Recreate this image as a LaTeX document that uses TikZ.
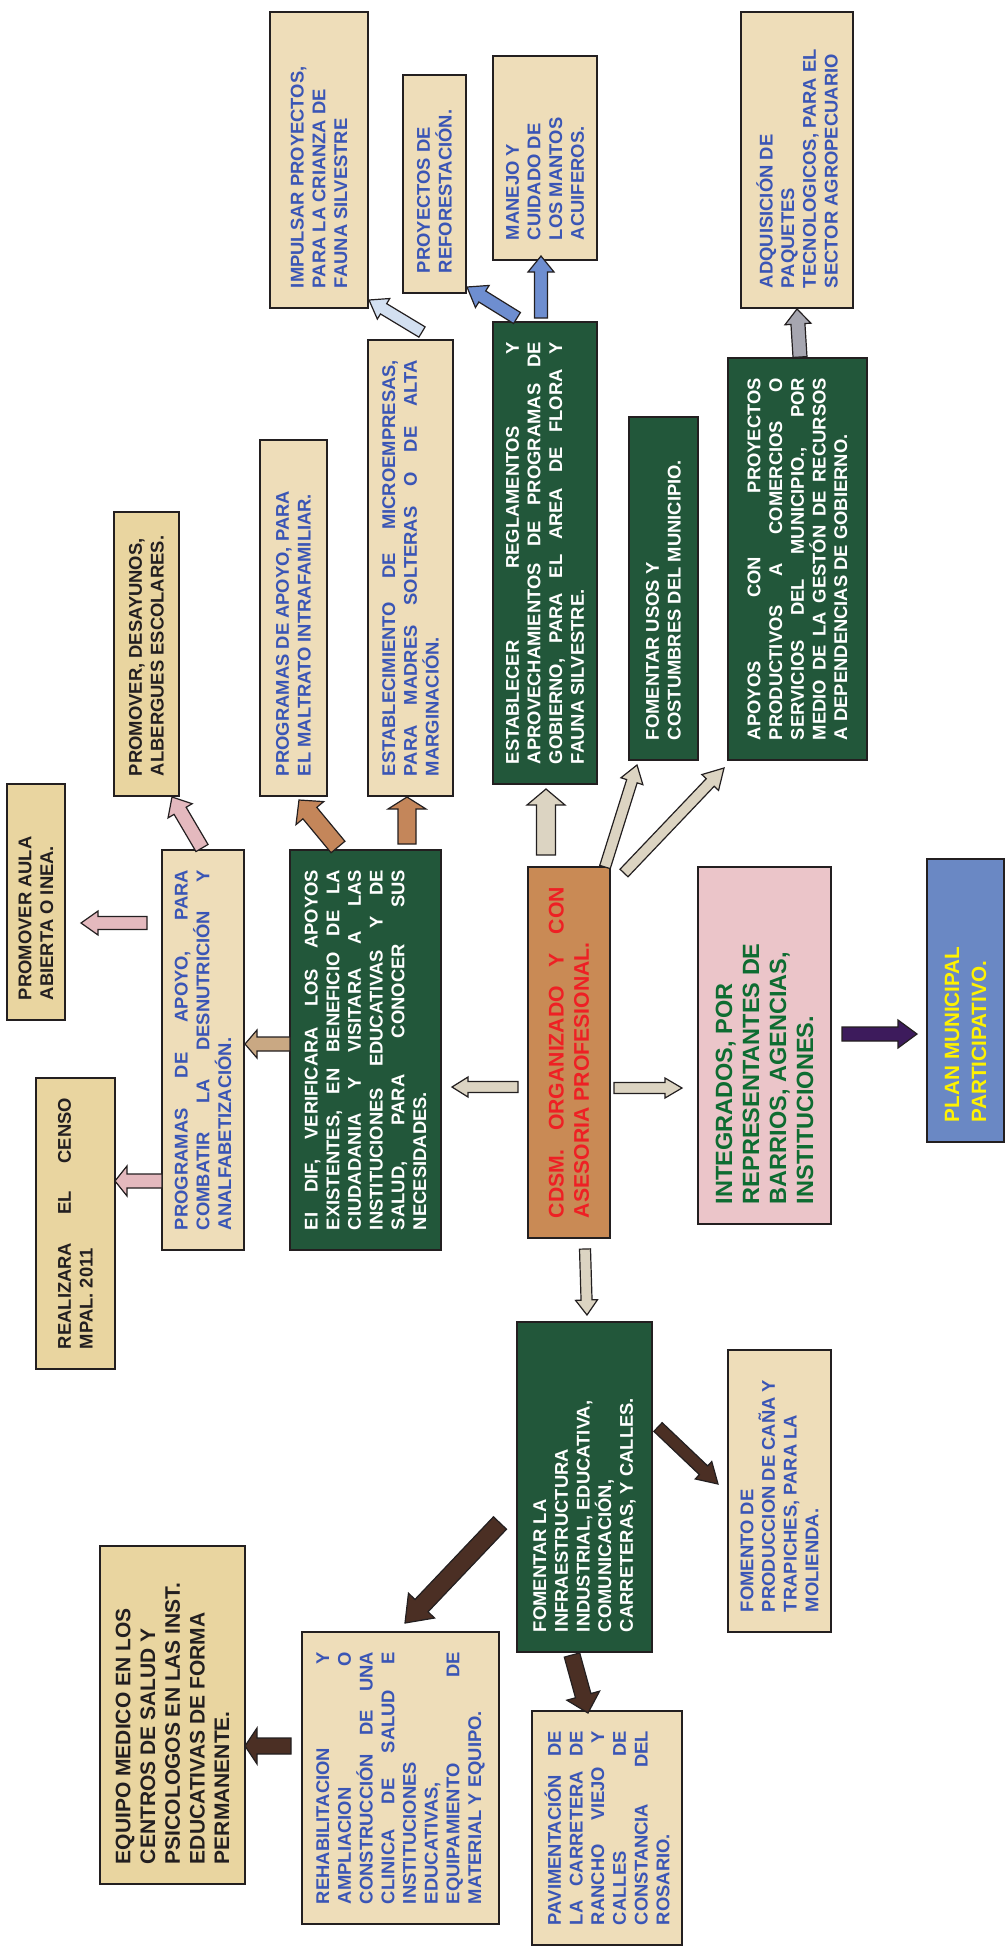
\documentclass[tikz,border=0pt]{standalone}
\usepackage{fontspec}
\setmainfont{Liberation Sans}
\usepackage{graphicx}
\usetikzlibrary{calc}

\definecolor{parch}{HTML}{EEDDB9}
\definecolor{parchy}{HTML}{E9D5A0}
\definecolor{marble}{HTML}{22573A}
\definecolor{wood}{HTML}{C98A55}
\definecolor{pinkbg}{HTML}{EBC5C9}
\definecolor{denim}{HTML}{6A88C4}
\definecolor{tblue}{HTML}{3A55B5}
\definecolor{tred}{HTML}{EE2024}
\definecolor{tgreen}{HTML}{0E6C31}
\definecolor{tyellow}{HTML}{FFF200}
\definecolor{tblack}{HTML}{231F20}
\definecolor{edge}{HTML}{231F20}
\definecolor{abeige}{HTML}{DCD4C2}
\definecolor{atan}{HTML}{C9A883}
\definecolor{acopper}{HTML}{C4865A}
\definecolor{apink}{HTML}{E4B9BE}
\definecolor{alblue}{HTML}{D3E0F1}
\definecolor{ablue}{HTML}{6E8ED0}
\definecolor{agray}{HTML}{A6A6B0}
\definecolor{apurple}{HTML}{3D1B5C}
\definecolor{abrown}{HTML}{4B2F24}

\newcommand\rtext[2]{\rotatebox{90}{\begin{minipage}{#1pt}\tolerance=10000 \hbadness=10000 #2\end{minipage}}}
\newcommand\rrtext[2]{\rtext{#1}{\raggedright #2}}

\newcommand\barrow[6]{%
  \coordinate (ba) at #2;
  \coordinate (bb) at #3;
  \coordinate (bh) at ($(bb)!#6pt!(ba)$);
  \draw[arrowline, fill=#1] ($(ba)!#4pt!90:(bb)$) -- ($(bh)!#4pt!90:(bb)$) -- ($(bh)!#5pt!90:(bb)$) -- (bb) -- ($(bh)!#5pt!-90:(bb)$) -- ($(bh)!#4pt!-90:(bb)$) -- ($(ba)!#4pt!-90:(bb)$) -- cycle;
}

\tikzset{
  box/.style={draw=edge, line width=1.5pt, inner sep=0pt, outer sep=0pt,
    font=\bfseries\fontsize{18.4}{21.7}\selectfont},
  arrowline/.style={draw=edge, line width=1.2pt, line join=miter},
}

\begin{document}
\begin{tikzpicture}[x=1pt, y=-1pt]
\useasboundingbox (0,0) rectangle (1005,1955);

% top row
\node[box, fill=parch, text=tblue, minimum width=98pt, minimum height=296pt] (impulsar) at (319,160)
  {\rrtext{256}{IMPULSAR PROYECTOS,\\ PARA LA CRIANZA DE\\ FAUNA SILVESTRE}};
\node[box, fill=parch, text=tblue, minimum width=63pt, minimum height=218pt] (refor) at (434.5,184)
  {\rrtext{178}{PROYECTOS DE\\ REFORESTACIÓN.}};
\node[box, fill=parch, text=tblue, minimum width=104pt, minimum height=204pt] (manejo) at (545,158)
  {\rrtext{164}{MANEJO Y\\ CUIDADO DE\\ LOS MANTOS\\ ACUIFEROS.}};
\node[box, fill=parch, text=tblue, minimum width=112pt, minimum height=296pt] (adq) at (797,160)
  {\rrtext{256}{ADQUISICIÓN DE\\ PAQUETES\\ TECNOLOGICOS, PARA EL\\ SECTOR AGROPECUARIO}};

% second row
\node[box, fill=parchy, text=tblack, minimum width=65pt, minimum height=284pt] (desay) at (146.5,654)
  {\rrtext{244}{PROMOVER, DESAYUNOS,\\ ALBERGUES ESCOLARES.}};
\node[box, fill=parch, text=tblue, minimum width=67pt, minimum height=356pt] (maltrato) at (293.5,618)
  {\rrtext{316}{PROGRAMAS DE APOYO, PARA\\ EL MALTRATO INTRAFAMILIAR.}};
\node[box, fill=parch, text=tblue, minimum width=85pt, minimum height=456pt] (establec) at (410.5,568)
  {\rtext{416}{ESTABLECIMIENTO DE MICROEMPRESAS,\linebreak PARA MADRES SOLTERAS O DE ALTA\linebreak MARGINACIÓN.}};
\node[box, fill=marble, text=white, minimum width=104pt, minimum height=462pt] (establecer) at (545,553)
  {\rtext{422}{ESTABLECER REGLAMENTOS Y\linebreak APROVECHAMIENTOS DE PROGRAMAS DE\linebreak GOBIERNO, PARA EL AREA DE FLORA Y\linebreak FAUNA SILVESTRE.}};
\node[box, fill=marble, text=white, minimum width=69pt, minimum height=343pt] (usos) at (663.5,588.5)
  {\rrtext{303}{FOMENTAR USOS Y\\ COSTUMBRES DEL MUNICIPIO.}};
\node[box, fill=marble, text=white, minimum width=139pt, minimum height=402pt] (apoyos) at (797.5,559)
  {\rtext{362}{APOYOS CON PROYECTOS\linebreak PRODUCTIVOS A COMERCIOS O\linebreak SERVICIOS DEL MUNICIPIO., POR\linebreak MEDIO DE LA GESTÓN DE RECURSOS\linebreak A DEPENDENCIAS DE GOBIERNO.}};

% middle row
\node[box, fill=parchy, text=tblack, minimum width=58pt, minimum height=236pt] (aula) at (36,902)
  {\rrtext{196}{PROMOVER AULA\\ ABIERTA O INEA.}};
\node[box, fill=parch, text=tblue, minimum width=82pt, minimum height=400pt] (combatir) at (203,1050)
  {\rtext{360}{PROGRAMAS DE APOYO, PARA\linebreak COMBATIR LA DESNUTRICIÓN Y\linebreak ANALFABETIZACIÓN.}};
\node[box, fill=marble, text=white, minimum width=151pt, minimum height=400pt] (dif) at (365.5,1050)
  {\rtext{360}{EI DIF, VERIFICARA LOS APOYOS\linebreak EXISTENTES, EN BENEFICIO DE LA\linebreak CIUDADANIA Y VISITARA A LAS\linebreak INSTITUCIONES EDUCATIVAS Y DE\linebreak SALUD, PARA CONOCER SUS\linebreak NECESIDADES.}};
\node[box, fill=wood, text=tred, minimum width=82pt, minimum height=371pt,
  font=\bfseries\fontsize{21.2}{25.2}\selectfont] (cdsm) at (569,1052.5)
  {\rtext{331}{CDSM. ORGANIZADO Y CON\linebreak ASESORIA PROFESIONAL.}};
\node[box, fill=pinkbg, text=tgreen, minimum width=133pt, minimum height=357pt,
  font=\bfseries\fontsize{23.5}{27}\selectfont] (integ) at (764.5,1045.5)
  {\rrtext{317}{INTEGRADOS, POR\\ REPRESENTANTES DE\\ BARRIOS, AGENCIAS,\\ INSTITUCIONES.}};
\node[box, fill=denim, text=tyellow, minimum width=77pt, minimum height=283pt,
  font=\bfseries\fontsize{20.7}{27}\selectfont] (plan) at (965.5,1000.5)
  {\rrtext{243}{PLAN MUNICIPAL\\ PARTICIPATIVO.}};
\node[box, fill=parchy, text=tblack, minimum width=79pt, minimum height=291pt] (realiz) at (75.5,1223.5)
  {\rtext{251}{REALIZARA EL CENSO\linebreak MPAL. 2011}};

% bottom part
\node[box, fill=marble, text=white, minimum width=135pt, minimum height=330pt] (infra) at (584.5,1487)
  {\rrtext{290}{FOMENTAR LA\\ INFRAESTRUCTURA\\ INDUSTRIAL, EDUCATIVA,\\ COMUNICACIÓN,\\ CARRETERAS, Y CALLES.}};
\node[box, fill=parch, text=tblue, minimum width=103pt, minimum height=282pt] (cana) at (779.5,1491)
  {\rrtext{242}{FOMENTO DE\\ PRODUCCION DE CAÑA Y\\ TRAPICHES, PARA LA\\ MOLIENDA.}};
\node[box, fill=parchy, text=tblack, minimum width=145pt, minimum height=338pt,
  font=\bfseries\fontsize{21}{24.7}\selectfont] (equipo) at (172.5,1715)
  {\rrtext{298}{EQUIPO MEDICO EN LOS\\ CENTROS DE SALUD Y\\ PSICOLOGOS EN LAS INST.\\ EDUCATIVAS DE FORMA\\ PERMANENTE.}};
\node[box, fill=parch, text=tblue, minimum width=197pt, minimum height=292pt] (rehab) at (400.5,1778)
  {\rtext{252}{REHABILITACION Y\linebreak AMPLIACION O\linebreak CONSTRUCCIÓN DE UNA\linebreak CLINICA DE SALUD E\linebreak INSTITUCIONES\linebreak EDUCATIVAS,\linebreak EQUIPAMIENTO DE\linebreak MATERIAL Y EQUIPO.}};
\node[box, fill=parch, text=tblue, minimum width=150pt, minimum height=234pt] (pavim) at (607,1828)
  {\rtext{194}{PAVIMENTACIÓN DE\linebreak LA CARRETERA DE\linebreak RANCHO VIEJO Y\linebreak CALLES DE\linebreak CONSTANCIA DEL\linebreak ROSARIO.}};

% arrows from CDSM
\barrow{abeige}{($(cdsm)+(-23,-197.5)$)}{($(establecer)+(1,236)$)}{9.5}{19}{16}
\barrow{abeige}{($(cdsm)+(36,-185.5)$)}{($(usos)+(-26.5,176.5)$)}{5.5}{11.5}{17}
\barrow{abeige}{($(cdsm)+(55,-179.5)$)}{($(apoyos)+(-73.5,209)$)}{5.5}{11.5}{20}
\barrow{abeige}{($(cdsm)+(-51,34.5)$)}{($(dif)+(86.5,37)$)}{5.5}{10}{16}
\barrow{abeige}{($(cdsm)+(45,35.5)$)}{($(integ)+(-82.5,42.5)$)}{5.5}{10}{17}
\barrow{abeige}{($(cdsm)+(16,196.5)$)}{($(infra)+(2.5,-172)$)}{5.5}{11}{15}
\barrow{apurple}{($(integ)+(77.5,-11.5)$)}{($(plan)+(-48.5,33.5)$)}{7}{14}{19}

% arrows from DIF
\barrow{atan}{($(dif)+(-75.5,-6)$)}{($(combatir)+(42,-6)$)}{7}{14}{12}
\barrow{acopper}{($(dif)+(-27.5,-203)$)}{($(maltrato)+(5.5,182)$)}{9}{18}{17}
\barrow{acopper}{($(dif)+(41.5,-206)$)}{($(establec)+(-3.5,229)$)}{9}{19}{12}

% arrows from COMBATIR
\barrow{apink}{($(combatir)+(-56,-127)$)}{($(aula)+(45,21)$)}{6.5}{12}{17}
\barrow{apink}{($(combatir)+(-41,131)$)}{($(realiz)+(39.5,-42.5)$)}{7}{15}{12}
\barrow{apink}{($(combatir)+(-1,-202)$)}{($(desay)+(25.5,143)$)}{7}{14}{16}

% upper arrows
\barrow{alblue}{($(establec)+(11.5,-236)$)}{($(impulsar)+(50,140)$)}{6}{12}{17}
\barrow{ablue}{($(establecer)+(-28,-235)$)}{($(refor)+(32.5,103)$)}{6.5}{13}{18}
\barrow{ablue}{($(establecer)+(-4,-235)$)}{($(manejo)+(-4,98)$)}{6.5}{13}{16}
\barrow{agray}{($(apoyos)+(2.5,-202)$)}{($(adq)+(0,149)$)}{7}{13}{15}

% lower arrows
\barrow{abrown}{($(infra)+(73.5,-60)$)}{($(cana)+(-61.5,-7)$)}{6}{12}{20}
\barrow{abrown}{($(infra)+(-12.5,168)$)}{($(pavim)+(-19,-115)$)}{8}{17}{18}
\barrow{abrown}{($(infra)+(-84.5,36)$)}{($(rehab)+(4.5,-155)$)}{9}{18}{24}
\barrow{abrown}{($(rehab)+(-109.5,-32)$)}{($(equipo)+(72.5,31)$)}{8}{18}{12}
\end{tikzpicture}
\end{document}
